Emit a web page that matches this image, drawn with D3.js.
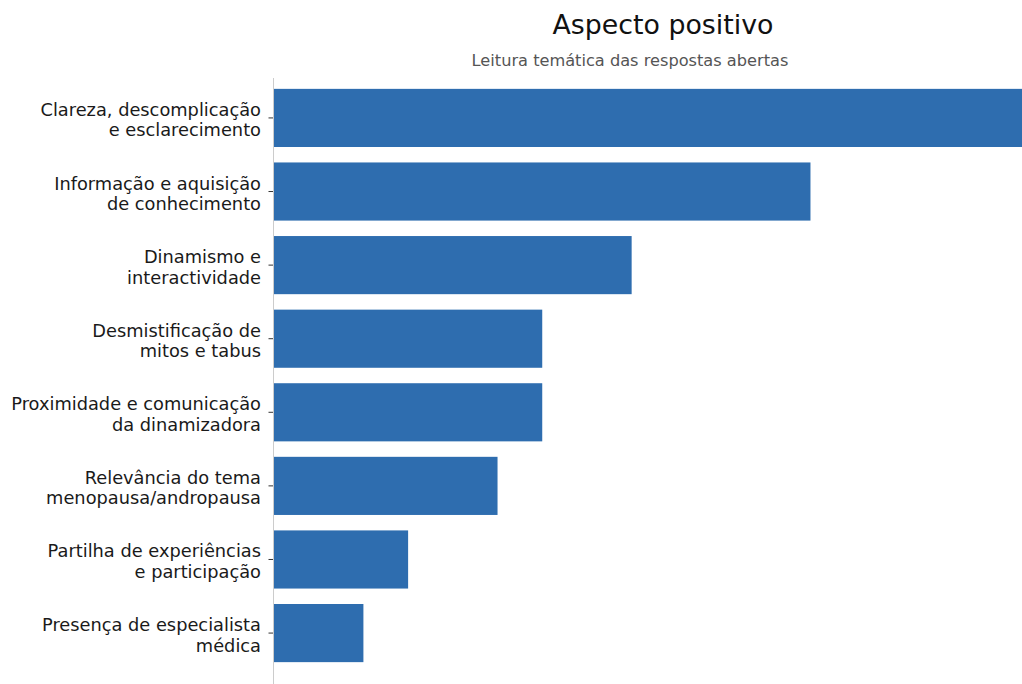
<!DOCTYPE html>
<html>
<head>
<meta charset="utf-8">
<script src="https://cdn.jsdelivr.net/npm/d3@7"></script>
<style>
  body { margin: 0; background: #fff; }
  text { font-family: "DejaVu Sans", sans-serif; }
</style>
</head>
<body>
<div id="chart"></div>
<script>
var w = 1022, h = 684;

// categories, two lines per label
var labelLine1 = ["Clareza, descomplicação", "Informação e aquisição", "Dinamismo e",
	"Desmistificação de", "Proximidade e comunicação", "Relevância do tema",
	"Partilha de experiências", "Presença de especialista"];
var labelLine2 = ["e esclarecimento", "de conhecimento", "interactividade",
	"mitos e tabus", "da dinamizadora", "menopausa/andropausa",
	"e participação", "médica"];
var counts = [17, 12, 8, 6, 6, 5, 3, 2];

var rows = counts.map(function(v, i){
	return {key: i, l1: labelLine1[i], l2: labelLine2[i], value: v};
});

var svg = d3.select("#chart")
	.append("svg")
	.attr("width", w)
	.attr("height", h);

var x = d3.scaleLinear()
	.domain([0, 17])
	.range([274, 1034]);

var y = d3.scaleBand()
	.domain(rows.map(function(d){ return d.key; }))
	.range([81.5, 669.5])
	.paddingInner(0.21)
	.paddingOuter(0.1);

svg.append("text")
	.attr("x", 663)
	.attr("y", 34)
	.attr("text-anchor", "middle")
	.attr("font-size", 26.8)
	.attr("fill", "#111")
	.text("Aspecto positivo");

svg.append("text")
	.attr("x", 630)
	.attr("y", 66)
	.attr("text-anchor", "middle")
	.attr("font-size", 16.2)
	.attr("fill", "#555")
	.text("Leitura temática das respostas abertas");

svg.selectAll(".bar")
	.data(rows)
	.enter()
	.append("rect")
	.attr("class", "bar")
	.attr("x", x(0))
	.attr("y", function(d){ return y(d.key); })
	.attr("width", function(d){ return x(d.value) - x(0); })
	.attr("height", y.bandwidth())
	.attr("fill", "#2e6daf");

// y axis: thin grey line plus small ticks, labels drawn by hand for two lines
var yAxis = svg.append("g")
	.attr("transform", "translate(" + (x(0) - 0.5) + ",0)")
	.call(d3.axisLeft(y).tickSize(5).tickSizeOuter(0).tickFormat(""));
yAxis.select(".domain").remove();
yAxis.selectAll(".tick line").attr("stroke", "#333");

svg.append("line")
	.attr("x1", x(0) - 0.5)
	.attr("x2", x(0) - 0.5)
	.attr("y1", 78)
	.attr("y2", h)
	.attr("stroke", "#ccc");

var lab = svg.selectAll(".ylab")
	.data(rows)
	.enter()
	.append("text")
	.attr("class", "ylab")
	.attr("text-anchor", "end")
	.attr("font-size", 17.8)
	.attr("fill", "#1a1a1a");
lab.append("tspan")
	.attr("x", 261)
	.attr("y", function(d){ return y(d.key) + y.bandwidth()/2 - 2; })
	.text(function(d){ return d.l1; });
lab.append("tspan")
	.attr("x", 261)
	.attr("y", function(d){ return y(d.key) + y.bandwidth()/2 + 18.5; })
	.text(function(d){ return d.l2; });
</script>
</body>
</html>
